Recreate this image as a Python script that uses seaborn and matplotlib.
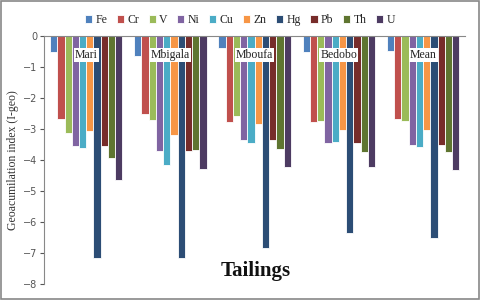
import matplotlib
matplotlib.use('Agg')
import matplotlib.pyplot as plt
from matplotlib.patches import Rectangle
import seaborn as sns
import pandas as pd

# geoaccumulation index per tailing site
sites = ['Mari', 'Mbigala', 'Mboufa', 'Bedobo', 'Mean']
elements = ['Fe', 'Cr', 'V', 'Ni', 'Cu', 'Zn', 'Hg', 'Pb', 'Th', 'U']

mari = [-0.50, -2.68, -3.14, -3.54, -3.61, -3.06, -7.15, -3.54, -3.95, -4.65]
mbigala = [-0.63, -2.53, -2.72, -3.72, -4.17, -3.19, -7.15, -3.72, -3.68, -4.30]
mboufa = [-0.38, -2.76, -2.58, -3.35, -3.46, -2.85, -6.85, -3.35, -3.65, -4.24]
bedobo = [-0.53, -2.77, -2.74, -3.46, -3.42, -3.02, -6.36, -3.46, -3.74, -4.24]
mean = [-0.48, -2.67, -2.74, -3.52, -3.58, -3.02, -6.52, -3.52, -3.74, -4.32]

colors = ['#4F81BD', '#C0504D', '#9BBB59', '#8064A2', '#4BACC6',
          '#F79646', '#2C4D75', '#772C2A', '#5F7530', '#4D3B62']

rows = []
for site, vals in zip(sites, [mari, mbigala, mboufa, bedobo, mean]):
    for el, v in zip(elements, vals):
        rows.append({'site': site, 'element': el, 'igeo': v})
df = pd.DataFrame(rows)

sns.set_style('white')
plt.rcParams['font.family'] = ['Liberation Serif', 'DejaVu Serif']

fig = plt.figure(figsize=(4.8, 3.0), dpi=100)
ax = fig.add_axes([0.092, 0.053, 0.877, 0.827])

sns.barplot(data=df, x='site', y='igeo', hue='element', hue_order=elements,
            palette=colors, saturation=1, width=0.86, edgecolor='white', linewidth=0.6,
            ax=ax, legend=True)

ax.set_ylim(-8, 0)
ax.set_yticks(range(-8, 1))
ax.set_xlim(-0.5, len(sites) - 0.5)
ax.set_xticks([])
ax.set_xlabel('')
ax.set_ylabel('Geoacumilation index (I-geo)', fontsize=8.5, color='#333333', labelpad=3)
ax.tick_params(axis='y', labelsize=7, colors='#555555', length=3, direction='out',
               left=True, pad=2)
for t in ax.get_yticklabels():
    t.set_family('DejaVu Sans')

for s in ['bottom', 'right']:
    ax.spines[s].set_visible(False)
ax.spines['top'].set_color('#888888')
ax.spines['left'].set_color('#888888')
ax.spines['top'].set_linewidth(0.8)
ax.spines['left'].set_linewidth(0.8)

for i, site in enumerate(sites):
    ax.text(i, -0.62, site, ha='center', va='center', fontsize=8.5, color='#222222',
            bbox=dict(facecolor='white', edgecolor='none', pad=0.8))

handles, labels = ax.get_legend_handles_labels()
ax.get_legend().remove()
fig.legend(handles, labels, loc='center', bbox_to_anchor=(0.50, 0.933), ncol=10,
           frameon=False, fontsize=8.5, handlelength=0.6, handleheight=0.6,
           handletextpad=0.3, columnspacing=0.8, borderaxespad=0)

fig.text(0.532, 0.097, 'Tailings', ha='center', va='center', fontsize=15,
         fontweight='bold', color='#111111')

fig.patches.append(Rectangle((0.002, 0.003), 0.996, 0.994, transform=fig.transFigure,
                             fill=False, edgecolor='#888888', linewidth=1.2))

fig.savefig('out.png', dpi=100)
